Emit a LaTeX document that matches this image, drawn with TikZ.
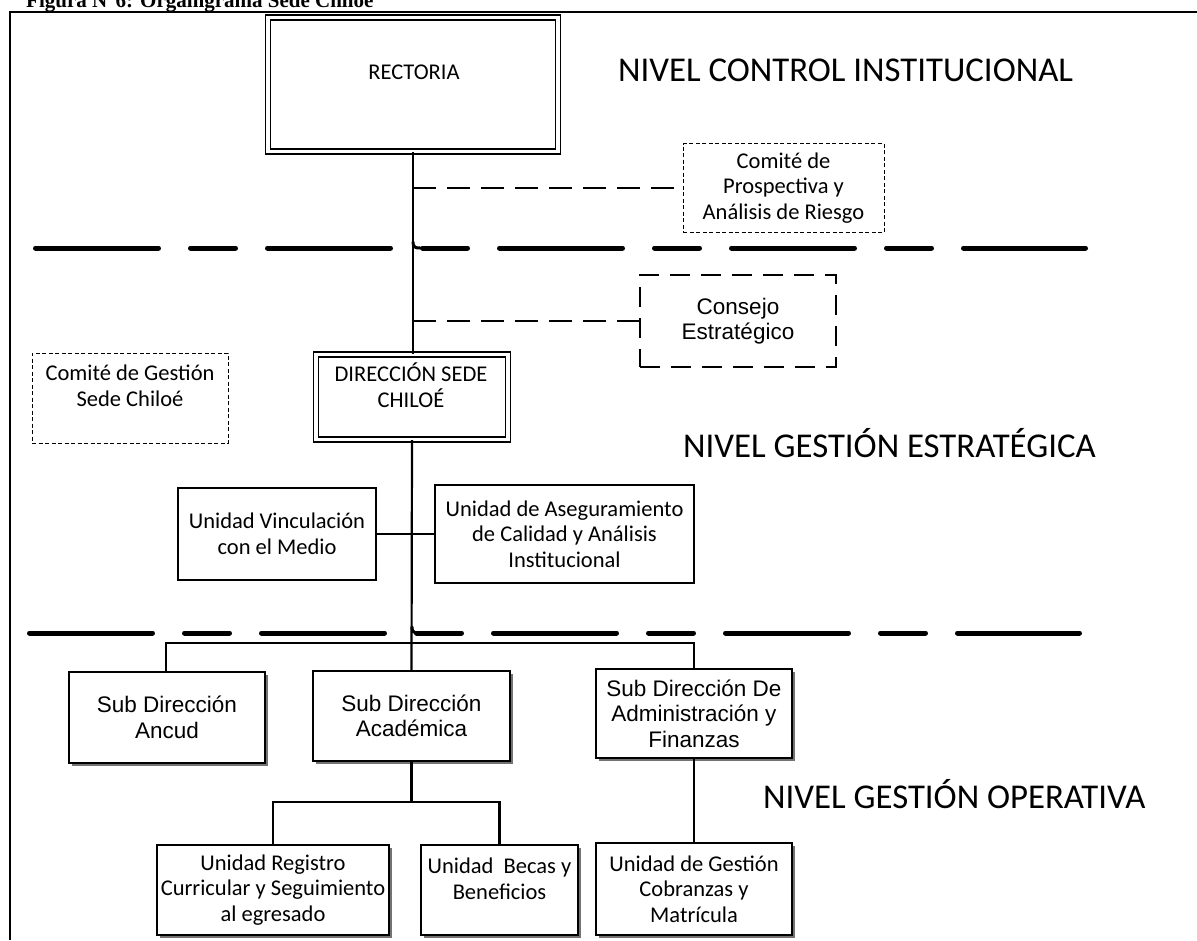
\documentclass[tikz,border=0pt]{standalone}
\usepackage{fontspec}
\setmainfont{Carlito}
\newfontfamily\arialf{Liberation Sans}
\newfontfamily\timesf{Liberation Serif}
\usetikzlibrary{calc}
\newcommand{\bxfont}{\fontsize{22.5}{25.5}\selectfont}
\newcommand{\lvfont}{\fontsize{34.8}{40}\selectfont}
\begin{document}
\begin{tikzpicture}[x=1pt,y=-1pt,
  box/.style={draw, line width=1.1pt, inner sep=0pt, align=center, font=\bxfont, fill=white},
  shbox/.style={box, preaction={draw=none, fill=black!55, transform canvas={xshift=2.5pt,yshift=-2.5pt}}},
  dblbox/.style={draw, line width=1.3pt, double, double distance=3.7pt, inner sep=0pt},
  finedash/.style={box, dash pattern=on 4pt off 2.5pt, line width=1pt},
  bigdash/.style={box, font=\arialf\bxfont, dash pattern=on 20pt off 11pt, line width=1.5pt},
  txt/.style={inner sep=0pt, align=center, font=\bxfont},
  conn/.style={draw, line width=2.2pt},
  dconn/.style={draw, line width=2pt, dash pattern=on 23pt off 11pt},
  sepline/.style={draw, line width=5pt, line cap=round, dash pattern=on 123pt off 32pt on 45pt off 32pt},
  bump/.style={draw, line width=3pt, line cap=round},
  level/.style={inner sep=0pt, anchor=base west, font=\lvfont},
  frame/.style={draw, line width=1.8pt}
]
\useasboundingbox (0,0) rectangle (1197,940);

% title and frame
\node[inner sep=0pt, anchor=base west, font=\timesf\bfseries\fontsize{21}{24}\selectfont] (title) at (26,7) {Figura N°6: Organigrama Sede Chiloe};
\coordinate (fbl) at (10,940);
\coordinate (ftl) at (10,12);
\coordinate (ftr) at (1197,12);
\draw[frame] (fbl) -- (ftl) -- (ftr);

% level separators
\coordinate (s1a) at (35.5,248);
\coordinate (s1b) at (1085.5,248);
\coordinate (s2a) at (29.5,633);
\coordinate (s2b) at (1079.5,633);
\draw[sepline] (s1a) -- (s1b);
\draw[sepline] (s2a) -- (s2b);

% level labels
\node[level] (lv1) at (618,81) {NIVEL CONTROL INSTITUCIONAL};
\node[level] (lv2) at (683,457) {NIVEL GESTIÓN ESTRATÉGICA};
\node[level] (lv3) at (763,808) {NIVEL GESTIÓN OPERATIVA};

% boxes
\node[dblbox, minimum width=290pt, minimum height=134pt] (rect) at (413,84.5) {};
\node[txt] (rectt) at (414,72) {RECTORIA};

\node[finedash, minimum width=201pt, minimum height=89pt] (prosp) at (783.5,188) {Comité de\\Prospectiva y\\Análisis de Riesgo};

\node[bigdash, minimum width=196pt, minimum height=92pt] (cons) at (738,321) {Consejo\\Estratégico};

\node[finedash, minimum width=196pt, minimum height=90pt] (cg) at (130,398) {};
\node[txt] (cgt) at (130,386) {Comité de Gestión\\Sede Chiloé};

\node[dblbox, minimum width=192pt, minimum height=85pt] (dir) at (412,397) {};
\node[txt] (dirt) at (411,385) {DIRECCIÓN SEDE\\CHILOÉ};

\node[box, minimum width=198pt, minimum height=92pt] (vinc) at (277,534) {Unidad Vinculación\\con el Medio};
\node[box, minimum width=259pt, minimum height=98pt] (aseg) at (564.5,534) {Unidad de Aseguramiento\\de Calidad y Análisis\\Institucional};

\node[shbox, font=\arialf\bxfont, minimum width=196pt, minimum height=91pt] (ancud) at (167,717.5) {Sub Dirección\\Ancud};
\node[shbox, font=\arialf\bxfont, minimum width=197pt, minimum height=90pt] (acad) at (411.5,716) {Sub Dirección\\Académica};
\node[shbox, font=\arialf\bxfont, minimum width=196pt, minimum height=89pt] (admin) at (694,713.5) {Sub Dirección De\\Administración y\\Finanzas};

\node[shbox, minimum width=232pt, minimum height=90pt] (reg) at (273,890) {Unidad Registro\\Curricular y Seguimiento\\al egresado};
\node[shbox, minimum width=157pt, minimum height=90pt] (becas) at (499.5,890) {};
\node[txt] (becast) at (499.5,879) {Unidad\ \ Becas y\\Beneficios};
\node[shbox, minimum width=196pt, minimum height=92pt] (gest) at (694,889) {Unidad de Gestión\\Cobranzas y\\Matrícula};

% connectors
\draw[conn] (rect.south) -- (rect.south |- dir.north);
\draw[dconn] (rect.south |- prosp.west) -- (prosp.west);
\draw[dconn] (rect.south |- cons.west) -- (cons.west);
\draw[dconn] ($(cg.east)+(0,8)$) -- ($(cg.east)+(0,8)$ -| dir.west);
\draw[conn] (dir.south) -- (acad.north);
\draw[conn] (vinc.east) -- (aseg.west);

% small hooks where the spine meets the separators
\coordinate (h1a) at (413,242);
\coordinate (h1b) at (420,248);
\coordinate (h2a) at (412,627);
\coordinate (h2b) at (419,633);
\draw[bump] (h1a) .. controls (413,247) and (415,248) .. (h1b);
\draw[bump] (h2a) .. controls (412,632) and (414,633) .. (h2b);

\coordinate (busL) at (166,643);
\coordinate (busR) at (694,643);
\draw[conn] (ancud.north -| busL) -- (busL) -- (busR) -- (admin.north);

\coordinate (bus2L) at (273,802);
\coordinate (bus2R) at (499.5,802);
\coordinate (bus2M) at (411.5,802);
\draw[conn] (acad.south) -- (bus2M);
\draw[conn] (reg.north) -- (bus2L) -- (bus2R) -- (becas.north);
\draw[conn] (admin.south) -- (gest.north);
\end{tikzpicture}
\end{document}
